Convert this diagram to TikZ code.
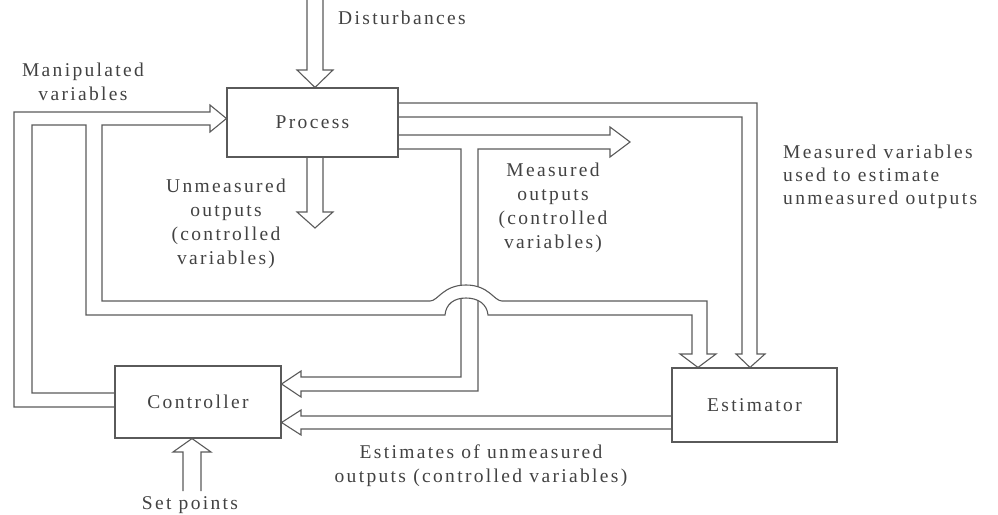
\documentclass[tikz,border=0pt]{standalone}
\usepackage{fontspec}
\setmainfont{Liberation Serif}[LetterSpace=12]
\definecolor{linegray}{HTML}{5A5A5A}
\definecolor{textgray}{HTML}{424242}
\begin{document}
\begin{tikzpicture}[x=1pt,y=-1pt,
  ln/.style={draw=linegray, line width=1.1pt, line join=miter},
  blk/.style={draw=linegray, line width=1.1pt, rectangle, inner sep=0pt,
              text=textgray, font=\fontsize{19.5}{24}\selectfont},
  lbl/.style={text=textgray, inner sep=0pt, align=center,
              font=\fontsize{19.5}{24}\selectfont},
  lblleft/.style={lbl, align=left, anchor=west,
              font=\fontsize{19.5}{23}\selectfont}]
\useasboundingbox (0,0) rectangle (998,514);

% blocks
\node[blk, minimum width=171pt, minimum height=69pt] (proc) at (312.5,122.5) {Process};
\node[blk, minimum width=166pt, minimum height=72pt] (ctrl) at (198,402) {Controller};
\node[blk, minimum width=165pt, minimum height=74pt] (est)  at (754.5,405) {Estimator};

% disturbances into the process
\draw[ln] (307,0) -- (307,70) -- (297,70) -- (315,0 |- proc.north)
          -- (333,70) -- (323,70) -- (323,0);

% unmeasured outputs leaving the process
\draw[ln] (307,0 |- proc.south) -- (307,212) -- (297,212) -- (315,228)
          -- (333,212) -- (323,212) -- (323,0 |- proc.south);

% measured outputs: straight on, and down to the controller
\draw[ln] (proc.east |- 0,135) -- (610,135) -- (610,127) -- (630,142)
          -- (610,157) -- (610,149) -- (478,149) -- (478,391) -- (301,391)
          -- (301,397) -- (ctrl.east |- 0,384) -- (301,371) -- (301,377)
          -- (461,377) -- (461,149) -- (proc.east |- 0,149);

% measured variables to the estimator
\draw[ln] (proc.east |- 0,103) -- (757,103) -- (757,354) -- (765,354)
          -- (750,0 |- est.north) -- (736,354) -- (742,354) -- (742,117)
          -- (proc.east |- 0,117);

% bridge where the manipulated variables pass over the measured outputs
\fill[white] (430,301) .. controls (438,301) and (443,285) .. (466,285)
          .. controls (489,285) and (494,301) .. (502,301) -- (488,315)
          .. controls (487,304) and (478,298) .. (466,298)
          .. controls (454,298) and (446,304) .. (445,315) -- cycle;

% manipulated variables: to the process and to the estimator
\draw[ln] (ctrl.west |- 0,407) -- (14,407) -- (14,112) -- (210,112)
          -- (210,105) -- (proc.west |- 0,118.5) -- (210,132) -- (210,125)
          -- (102,125) -- (102,301) -- (430,301)
          .. controls (438,301) and (443,285) .. (466,285)
          .. controls (489,285) and (494,301) .. (502,301)
          -- (707,301) -- (707,354) -- (716,354) -- (698,0 |- est.north)
          -- (680,354) -- (692,354) -- (692,315) -- (488,315)
          .. controls (487,304) and (478,298) .. (466,298)
          .. controls (454,298) and (446,304) .. (445,315)
          -- (86,315) -- (86,125) -- (32,125) -- (32,393)
          -- (ctrl.west |- 0,393);

% estimates back to the controller
\draw[ln] (est.west |- 0,416) -- (301,416) -- (301,410)
          -- (ctrl.east |- 0,422.5) -- (301,435) -- (301,429)
          -- (est.west |- 0,429);

% set points into the controller
\draw[ln] (183,491) -- (183,452) -- (173,452) -- (192,0 |- ctrl.south)
          -- (211,452) -- (201,452) -- (201,491);

% labels
\node[lblleft] (tdist) at (338,18) {Disturbances};
\node[lbl] (tmanip) at (83,82) {Manipulated\\variables};
\node[lbl] (tunm) at (226,224) {Unmeasured\\outputs\\(controlled\\variables)};
\node[lbl] (tmeas) at (553,208) {Measured\\outputs\\(controlled\\variables)};
\node[lblleft] (tused) at (783,177) {Measured variables\\used to estimate\\unmeasured outputs};
\node[lbl] (testim) at (481,466) {Estimates of unmeasured\\outputs (controlled variables)};
\node[lbl] (tset) at (190,505) {Set points};
\end{tikzpicture}
\end{document}
